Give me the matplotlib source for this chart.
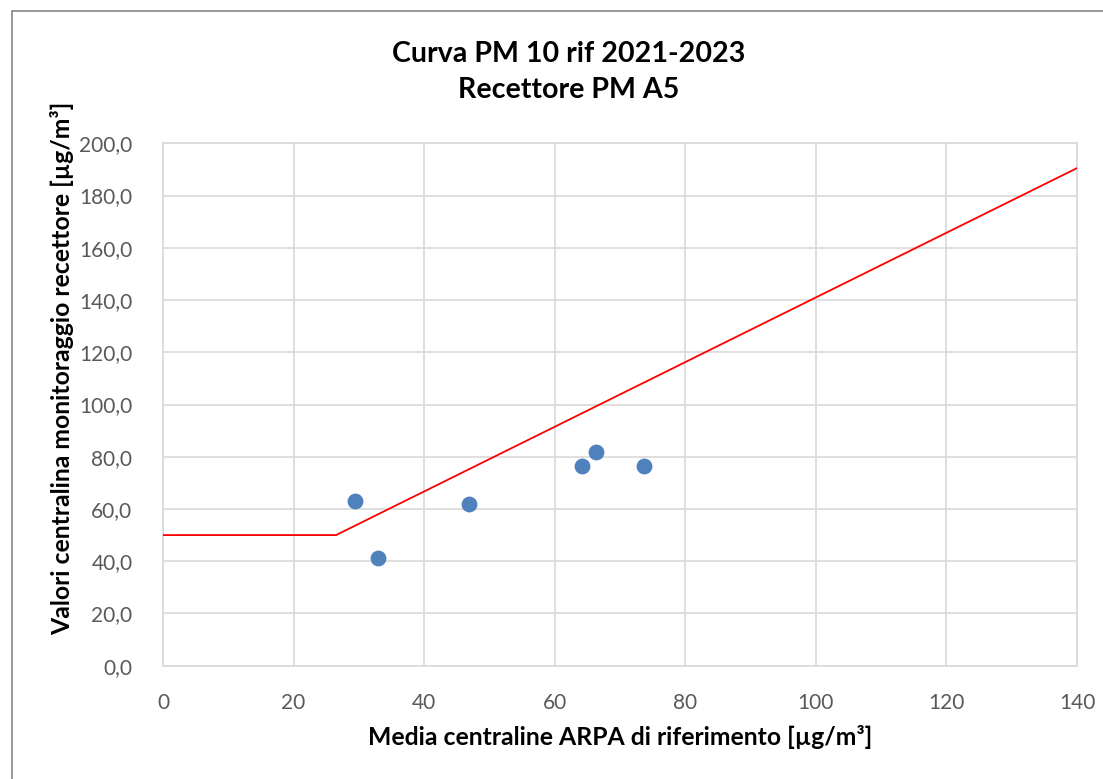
import matplotlib.pyplot as plt
from matplotlib.patches import Rectangle

# measured points (ARPA mean vs receptor monitoring)
x_arpa = [29.4, 33.0, 46.8, 64.2, 66.3, 73.7]
y_recettore = [63.2, 41.3, 61.8, 76.3, 81.9, 76.5]

# limit curve
curve_x = [0, 26.5, 140]
curve_y = [50, 50, 190.5]

x_ticks = [0, 20, 40, 60, 80, 100, 120, 140]
y_ticks = [0, 20, 40, 60, 80, 100, 120, 140, 160, 180, 200]

plt.rcParams['font.family'] = ['Lato', 'DejaVu Sans']

fig = plt.figure(figsize=(11.03, 7.79), dpi=100)
ax = fig.add_axes([163/1103, 1 - 665.7/779, (1077 - 163)/1103, (665.7 - 143.3)/779])

ax.plot(curve_x, curve_y, color='#ff0000', lw=1.3, zorder=3)
ax.scatter(x_arpa, y_recettore, s=130, color='#4f81bd', zorder=4, linewidths=0)

ax.set_xlim(0, 140)
ax.set_ylim(0, 200)
ax.set_xticks(x_ticks)
ax.set_yticks(y_ticks)
ax.set_yticklabels([f"{v:.1f}".replace('.', ',') for v in y_ticks])
ax.grid(True, color='#d9d9d9', lw=1.2)
ax.set_axisbelow(True)
for s in ax.spines.values():
    s.set_color('#d9d9d9')
    s.set_linewidth(1.2)
ax.tick_params(length=0, labelsize=15, labelcolor='#595959')
ax.tick_params(axis='x', pad=20)
ax.tick_params(axis='y', pad=22)

ax.set_xlabel('Media centraline ARPA di riferimento [µg/m³]', fontsize=17.8, fontweight='bold', color='#000000')
ax.set_ylabel('Valori centralina monitoraggio recettore [µg/m³]', fontsize=17.8, fontweight='bold', color='#000000')
ax.xaxis.set_label_coords((620 - 163)/914, -(737 - 665.7)/522.4)
ax.yaxis.set_label_coords(-(163 - 62)/914, (665.7 - 368)/522.4)
ax.xaxis.label.set_va('center')
ax.yaxis.label.set_va('center')

fig.text(569/1103, 1 - 72/779, 'Curva PM 10 rif 2021-2023\nRecettore PM A5', ha='center', va='center',
         fontsize=20.6, fontweight='bold', linespacing=1.45)

# outer chart border
fig.patches.append(Rectangle((12/1103, -0.1), 1.2, 1 - 11/779 + 0.1, transform=fig.transFigure,
                             fill=False, edgecolor='#868686', lw=1.2))

fig.savefig('out.png', dpi=100)
